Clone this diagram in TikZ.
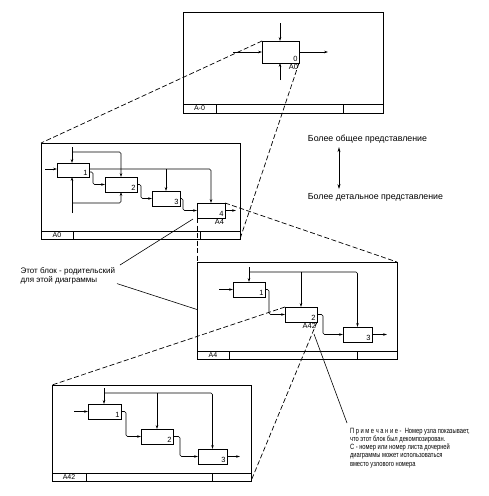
\documentclass[tikz,border=0pt]{standalone}
\usepackage{fontspec}
\setmainfont{Liberation Sans}
\newfontfamily\notefont[FakeStretch=0.76]{Liberation Sans}
\usetikzlibrary{arrows.meta}

\begin{document}
\begin{tikzpicture}[
    x=1pt, y=-1pt,
    every node/.style={inner sep=0pt, outer sep=0pt},
    sheet/.style={draw, line width=1pt, anchor=north west},
    blk/.style={draw, line width=1pt, anchor=north west, minimum width=32pt, minimum height=15pt},
    num/.style={anchor=south east, inner sep=1.5pt, font=\fontsize{7.5}{8}\selectfont},
    ref/.style={anchor=north east, inner sep=1pt, font=\fontsize{7.5}{8}\selectfont},
    tag/.style={font=\fontsize{7}{7}\selectfont},
    arrow/.style={-{Stealth[length=4pt, width=2.6pt]}, line width=0.6pt, rounded corners=1.5pt},
    both/.style={{Stealth[length=5pt, width=3pt]}-{Stealth[length=5pt, width=3pt]}, line width=0.7pt},
    link/.style={dash pattern=on 5pt off 2.5pt, line width=0.7pt},
    lead/.style={line width=0.6pt}
]
\useasboundingbox (0,0) rectangle (488,496);

% Sheets
\node[sheet, minimum width=200pt, minimum height=101pt] (top) at (183,12) {};
\node[sheet, minimum width=199pt, minimum height=96pt] (pa0) at (41,143) {};
\node[sheet, minimum width=200pt, minimum height=97pt] (pa4) at (197,262) {};
\node[sheet, minimum width=199pt, minimum height=96pt] (pa42) at (52,385) {};

\foreach \s/\h/\l/\r/\t in {top/9/33/40/A-0, pa0/8/32/40/A0, pa4/8/32/40/A4, pa42/8/34/39/A42} {
    \draw[line width=1pt] ([yshift=\h pt]\s.south west) -- ([yshift=\h pt]\s.south east);
    \draw[line width=1pt] ([xshift=\l pt]\s.south west) -- ++(0,-\h);
    \draw[line width=1pt] ([xshift=-\r pt]\s.south east) -- ++(0,-\h);
    \node[tag] (tag-\s) at ([shift={(0.5*\l pt,0.5*\h pt)}]\s.south west) {\t};
}

% Context
\node[blk, minimum width=37pt, minimum height=22pt, label={[num]south east:0}, label={[ref]south east:A0}] (b0) at (262,41) {};
\coordinate (b0in) at (233,52);
\coordinate (b0ctl) at (280,23);
\coordinate (b0mec) at (280,80);
\coordinate (b0out) at (328,52);
\draw[arrow] (b0in) -- (b0in -| b0.west);
\draw[arrow] (b0ctl) -- (b0ctl |- b0.north);
\draw[arrow] (b0mec) -- (b0mec |- b0.south);
\draw[arrow] (b0.east) -- (b0out);

% Diagram A0
\node[blk, minimum height=14pt, label={[num]south east:1}] (a1) at (57,163) {};
\node[blk, label={[num]south east:2}] (a2) at (105,177) {};
\node[blk, minimum width=28pt, label={[num]south east:3}] (a3) at (152,191) {};
\node[blk, minimum width=28pt, label={[num]south east:4}, label={[ref]south east:A4}] (a4) at (197,203) {};
\coordinate (a1in) at (45,169);
\coordinate (a0ctl) at (72,147);
\coordinate (a0mec) at (72,213);
\coordinate (a1o) at ([yshift=1pt]a1.east);
\coordinate (a4out) at (236,210.5);
\draw[arrow] (a1in) -- (a1in -| a1.west);
\draw[arrow] (a0ctl) -- (a0ctl |- a1.north);
\draw[arrow] ([yshift=-5pt]a0ctl) -| (a2.north);
\draw[arrow] (a0mec) -- (a0mec |- a1.south);
\draw[arrow] ([yshift=10pt]a0mec) -| (a2.south);
\draw[arrow] (a1o) -| (a4.north);
\draw[arrow] (a1o -| a3.north) -- (a3.north);
\draw[arrow] ([yshift=-2pt]a1.east) -- ++(4,0) |- (a2.west);
\draw[arrow] (a2.east) -- ++(4,0) |- (a3.west);
\draw[arrow] (a3.east) -- ++(3,0) |- (a4.west);
\draw[arrow] (a4.east) -- (a4out);

% Diagram A4
\node[blk, label={[num]south east:1}] (c1) at (233,282) {};
\node[blk, label={[num]south east:2}, label={[ref]south east:A42}] (c2) at (285,307) {};
\node[blk, minimum width=29pt, label={[num]south east:3}] (c3) at (343,327) {};
\coordinate (c1in) at (219,289.5);
\coordinate (c0ctl) at (249,267);
\coordinate (cbar) at (249,272);
\coordinate (c3out) at (387,334.5);
\draw[arrow] (c1in) -- (c1.west);
\draw[arrow] (c0ctl) -- (c0ctl |- c1.north);
\draw[arrow] (cbar) -| (c3.north);
\draw[arrow] (cbar -| c2.north) -- (c2.north);
\draw[arrow] (c1.east) -- ++(4,0) |- (c2.west);
\draw[arrow] (c2.east) -- ++(6,0) |- (c3.west);
\draw[arrow] (c3.east) -- (c3out);

% Diagram A42
\node[blk, minimum width=33pt, label={[num]south east:1}] (d1) at (88,404) {};
\node[blk, label={[num]south east:2}] (d2) at (141,429) {};
\node[blk, minimum width=29pt, label={[num]south east:3}] (d3) at (198,449) {};
\coordinate (d1in) at (74,411.5);
\coordinate (d0ctl) at (104,388);
\coordinate (dbar) at (104,393);
\coordinate (d3out) at (240,456.5);
\draw[arrow] (d1in) -- (d1.west);
\draw[arrow] (d0ctl) -- (d0ctl |- d1.north);
\draw[arrow] (dbar) -| (d3.north);
\draw[arrow] (dbar -| d2.north) -- (d2.north);
\draw[arrow] (d1.east) -- ++(5,0) |- (d2.west);
\draw[arrow] (d2.east) -- ++(7,0) |- (d3.west);
\draw[arrow] (d3.east) -- (d3out);

% Decomposition links
\draw[link] (b0.north west) -- (pa0.north west);
\draw[link] (b0.south east) -- (pa0.south east);
\draw[link] (a4.north east) -- (pa4.north east);
\draw[link] (a4.south west) -- (pa4.north west);
\draw[link] (c2.north west) -- (pa42.north west);
\draw[link] (c2.south east) -- (pa42.south east);

% Texts
\node[font=\fontsize{8.8}{10}\selectfont] (general) at (367.5,139) {Более общее представление};
\node[font=\fontsize{8.8}{10}\selectfont] (detailed) at (375.5,197) {Более детальное представление};
\draw[both] ([shift={(-28.5pt,-4pt)}]general.south) -- ([shift={(-36.5pt,4pt)}]detailed.north);

\node[align=left, anchor=north east, font=\fontsize{8}{9}\selectfont] (parent) at (115,268) {Этот блок - родительский\\для этой диаграммы};
\draw[lead] ([shift={(5pt,3pt)}]parent.north east) -- ([shift={(-4pt,-1pt)}]a4.south west);
\draw[lead] ([shift={(2pt,1pt)}]parent.south east) -- ([yshift=1pt]pa4.west);

\node[align=left, anchor=north west, font=\notefont\fontsize{7.6}{8.2}\selectfont] (note) at (350,428) {П р и м е ч а н и е -\ \ Номер узла показывает,\\что этот блок был декомпозирован.\\С - номер или номер листа дочерней\\диаграммы может использоваться\\вместо узлового номера};
\draw[lead] ([shift={(-3pt,5pt)}]note.north west) -- ([shift={(-3pt,-12pt)}]c2.south east);

\end{tikzpicture}
\end{document}
